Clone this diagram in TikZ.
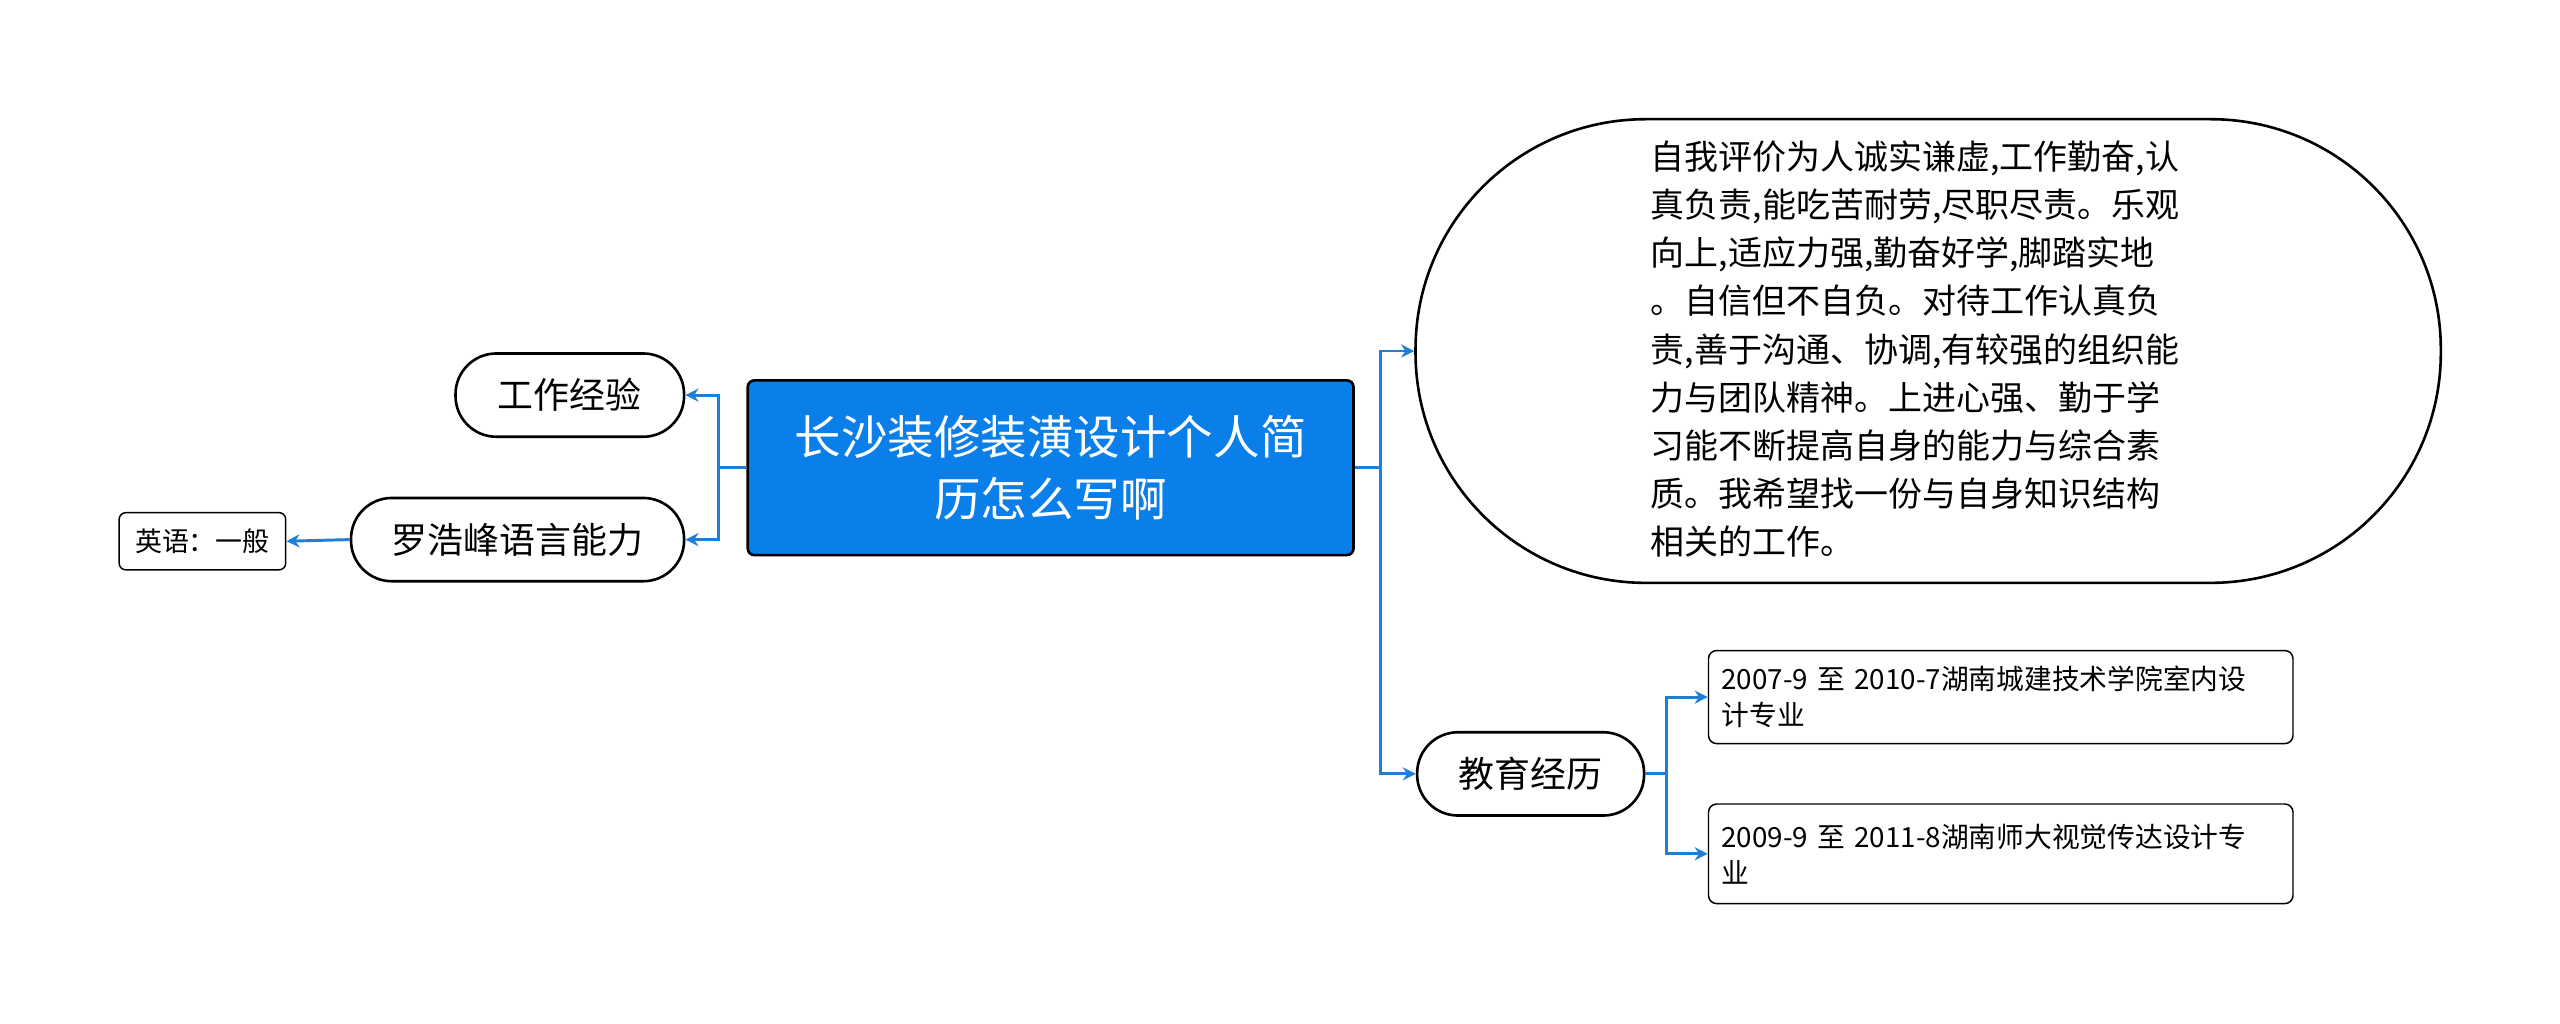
\documentclass[tikz,border=0pt]{standalone}
\usepackage{fontspec}
\setmainfont{Noto Sans CJK SC}
\usetikzlibrary{positioning,arrows.meta}
\definecolor{linkblue}{HTML}{1F7FD6}
\definecolor{rootblue}{HTML}{0A7FEA}
\tikzset{
  pill/.style={draw=black,line width=1.6pt,rounded corners=25pt,minimum height=51pt,inner xsep=14pt,font=\fontsize{22}{25}\selectfont},
  leafbox/.style={draw=black,line width=0.9pt,rounded corners=5pt,align=left,text width=342pt,font=\fontsize{17}{22}\selectfont,anchor=north west,inner sep=8pt},
  link/.style={draw=linkblue,line width=1.8pt,-{Stealth[length=8pt,width=8pt]}},
}
\begin{document}
\begin{tikzpicture}[x=1pt,y=-1pt]
  \useasboundingbox (0,0) rectangle (1568,626.6);
  % root
  \node[draw=black,line width=1.6pt,fill=rootblue,rounded corners=4pt,minimum width=371pt,minimum height=107pt,
        align=center,text=white,font=\fontsize{28.5}{38}\selectfont] (root) at (643.5,286.5)
        {长沙装修装潢设计个人简\\历怎么写啊};
  % left side
  \node[pill,minimum width=140pt] (work) at (349,242) {工作经验};
  \node[pill,minimum width=204pt] (lang) at (317,330.5) {罗浩峰语言能力};
  \node[draw=black,line width=0.9pt,rounded corners=4pt,minimum width=102pt,minimum height=35pt,
        font=\fontsize{16.5}{18}\selectfont] (eng) at (124,331.5) {英语：一般};
  % right side
  \node[draw=black,line width=1.6pt,rounded corners=141pt,minimum width=628pt,minimum height=284pt] (self) at (1181,215) {};
  \node[align=left,anchor=north west,inner sep=0pt,font=\fontsize{20.8}{29.5}\selectfont] (selftext) at (1011,86)
    {自我评价为人诚实谦虚,工作勤奋,认\\真负责,能吃苦耐劳,尽职尽责。乐观\\向上,适应力强,勤奋好学,脚踏实地\\。自信但不自负。对待工作认真负\\责,善于沟通、协调,有较强的组织能\\力与团队精神。上进心强、勤于学\\习能不断提高自身的能力与综合素\\质。我希望找一份与自身知识结构\\相关的工作。};
  \node[pill,minimum width=139pt] (edu) at (937.5,474) {教育经历};
  \node[leafbox,minimum height=57pt] (edua) at (1046,398)
    {2007-9 至 2010-7湖南城建技术学院室内设\\计专业};
  \node[leafbox,minimum height=61pt] (edub) at (1046,492)
    {2009-9 至 2011-8湖南师大视觉传达设计专\\业};
  % connectors
  \draw[link] (root.west) -- ++(-17,0) |- (work.east);
  \draw[link] (root.west) -- ++(-17,0) |- (lang.east);
  \draw[link] (lang.west) -- (eng.east);
  \draw[link] (root.east) -- ++(16,0) |- (self.west);
  \draw[link] (root.east) -- ++(16,0) |- (edu.west);
  \draw[link] (edu.east) -- ++(13,0) |- (edua.west);
  \draw[link] (edu.east) -- ++(13,0) |- (edub.west);
\end{tikzpicture}
\end{document}
